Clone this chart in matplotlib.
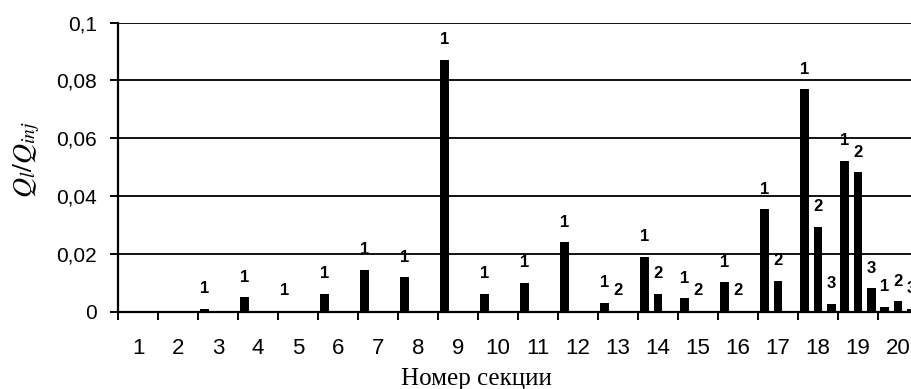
import numpy as np
import matplotlib
matplotlib.use("Agg")
import matplotlib.pyplot as plt

# section numbers and relative flow for series 1, 2, 3 (nan = no bar)
sections = list(range(1, 21))
nan = np.nan
series_1 = [nan, nan, 0.001, 0.005, 0.0004, 0.0061, 0.0144, 0.0119, 0.0871, 0.0061,
            0.010, 0.024, 0.0031, 0.019, 0.0046, 0.0102, 0.0354, 0.077, 0.0523, 0.0016]
series_2 = [nan, nan, nan, nan, nan, nan, nan, nan, nan, nan,
            nan, nan, 0.0004, 0.0061, 0.0004, 0.0004, 0.0107, 0.0294, 0.0482, 0.0036]
series_3 = [nan, nan, nan, nan, nan, nan, nan, nan, nan, nan,
            nan, nan, nan, nan, nan, nan, nan, 0.0027, 0.0081, 0.001]
series_names = ["1", "2", "3"]
y_ticks = [0, 0.02, 0.04, 0.06, 0.08, 0.1]
y_tick_labels = ["0", "0,02", "0,04", "0,06", "0,08", "0,1"]

plt.rcParams['mathtext.fontset'] = 'stix'

fig = plt.figure(figsize=(9.11, 3.89), dpi=100)
ax = fig.add_axes([118 / 911, 1 - 311.7 / 389, 800 / 911, 289 / 389])

x = np.array(sections, dtype=float)
offsets = [-1 / 3, 0, 1 / 3]
for name, vals, off in zip(series_names, [series_1, series_2, series_3], offsets):
    vals = np.array(vals)
    ok = ~np.isnan(vals)
    ax.bar(x[ok] + off, vals[ok], width=0.21, color='black', zorder=3)
    for xi, v in zip(x[ok] + off, vals[ok]):
        ax.annotate(name, (xi, v), xytext=(0, 14.5), textcoords='offset points',
                    ha='center', va='center', fontsize=12, family='Liberation Sans',
                    fontweight='bold')

ax.set_xlim(0.5, 20.5)
ax.set_ylim(0, 0.1)
ax.set_yticks(y_ticks)
ax.set_yticklabels(y_tick_labels, family='Liberation Sans', fontsize=15)
ax.yaxis.grid(True, color='#111111', linewidth=1.4, zorder=0)
ax.set_axisbelow(True)

# tick marks between sections, labels at section centres
ax.set_xticks(np.arange(0.5, 21, 1))
ax.set_xticklabels([])
ax.set_xticks(x, minor=True)
ax.set_xticklabels([str(s) for s in sections], minor=True,
                   family='Liberation Sans', fontsize=16)
ax.tick_params(axis='x', which='major', length=6, width=1.4, direction='out')
ax.tick_params(axis='x', which='minor', length=0, pad=19)
ax.tick_params(axis='y', length=6, width=1.4, pad=9)

for s in ['top', 'right']:
    ax.spines[s].set_visible(False)
for s in ['left', 'bottom']:
    ax.spines[s].set_linewidth(1.6)
    ax.spines[s].set_zorder(4)

fig.text(476 / 911, 1 - 379 / 389, "Номер секции", ha='center', va='center',
         family='Liberation Serif', fontsize=18)
fig.text(27 / 911, 1 - 160 / 389, r'$Q_l/Q_{inj}$', ha='center', va='center',
         rotation=90, fontsize=20)

fig.savefig("out.png", dpi=100)
